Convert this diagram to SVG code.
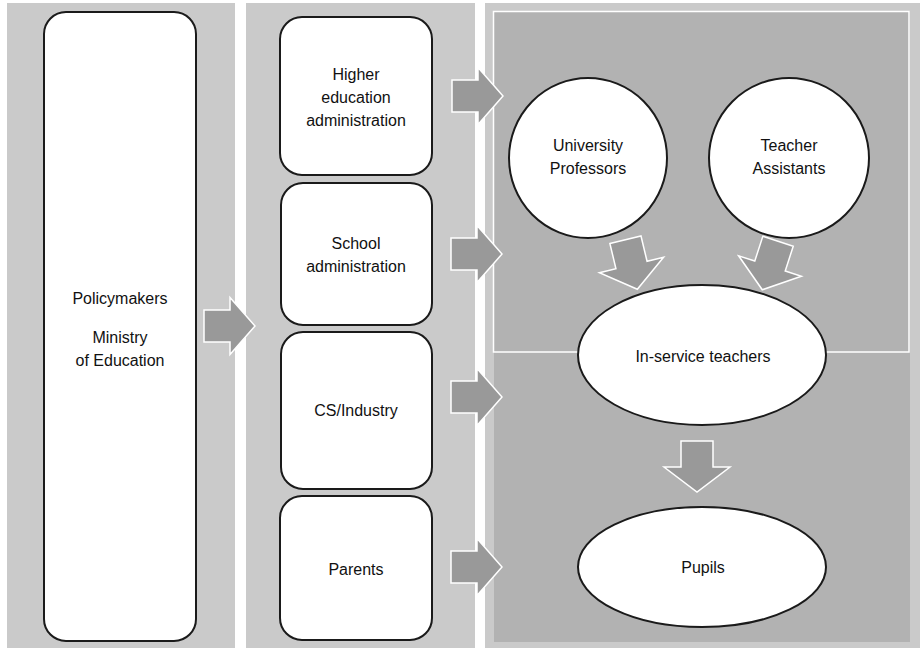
<svg xmlns="http://www.w3.org/2000/svg" width="920" height="649" viewBox="0 0 920 649">
  <style>
    .panel { fill: #cacaca; }
    .inner { fill: #b2b2b2; }
    .box { fill: #ffffff; stroke: #1a1a1a; stroke-width: 2; }
    .arrow { fill: #999999; stroke: #ffffff; stroke-width: 1.5; stroke-linejoin: miter; }
    .label { font-family: "Liberation Sans", Arial, sans-serif; font-size: 16px; fill: #111111; text-anchor: middle; }
  </style>
  <defs>
    <!-- block arrow pointing right, centred on the head base -->
    <polygon id="arrowRight" points="-26,-16 0,-16 0,-28.5 25,0 0,28.5 0,16 -26,16"/>
    <!-- block arrow pointing down, centred on the head base -->
    <polygon id="arrowDown" points="-16,-26 16,-26 16,0 33,0 0,25 -33,0 -16,0"/>
  </defs>

  <rect width="920" height="649" fill="#ffffff"/>

  <!-- column backgrounds -->
  <rect class="panel" x="7" y="3" width="228" height="645"/>
  <rect class="panel" x="246" y="3" width="229" height="645"/>
  <rect class="panel" x="485" y="3" width="435" height="645"/>
  <rect class="inner" x="494" y="11" width="416" height="631"/>
  <rect x="493.5" y="11.5" width="415.5" height="340.5" fill="none" stroke="#ffffff" stroke-width="1.5"/>

  <!-- connectors -->
  <g id="connectors">
    <use href="#arrowRight" class="arrow" x="230" y="326"/>
    <use href="#arrowRight" class="arrow" x="478" y="96"/>
    <use href="#arrowRight" class="arrow" x="477" y="254"/>
    <use href="#arrowRight" class="arrow" x="477" y="397"/>
    <use href="#arrowRight" class="arrow" x="477" y="567"/>
    <use href="#arrowDown" class="arrow" transform="translate(631.5,265) rotate(-13.5)"/>
    <use href="#arrowDown" class="arrow" transform="translate(770,266) rotate(18)"/>
    <use href="#arrowDown" class="arrow" x="697" y="467"/>
  </g>

  <g id="policymakers">
    <rect class="box" x="44" y="12" width="152" height="629" rx="22"/>
    <text class="label" x="120" y="304">Policymakers</text>
    <text class="label" x="120" y="343">Ministry</text>
    <text class="label" x="120" y="366">of Education</text>
  </g>

  <g id="higher-education">
    <rect class="box" x="280" y="17" width="152" height="158" rx="22"/>
    <text class="label" x="356" y="80">Higher</text>
    <text class="label" x="356" y="103">education</text>
    <text class="label" x="356" y="126">administration</text>
  </g>

  <g id="school-administration">
    <rect class="box" x="281" y="183" width="151" height="142" rx="22"/>
    <text class="label" x="356" y="249">School</text>
    <text class="label" x="356" y="272">administration</text>
  </g>

  <g id="cs-industry">
    <rect class="box" x="281" y="332" width="151" height="157" rx="22"/>
    <text class="label" x="356" y="416">CS/Industry</text>
  </g>

  <g id="parents">
    <rect class="box" x="280" y="496" width="152" height="144" rx="22"/>
    <text class="label" x="356" y="575">Parents</text>
  </g>

  <g id="university-professors">
    <ellipse class="box" cx="588" cy="158" rx="79" ry="80"/>
    <text class="label" x="588" y="151">University</text>
    <text class="label" x="588" y="174">Professors</text>
  </g>

  <g id="teacher-assistants">
    <ellipse class="box" cx="789" cy="158" rx="80" ry="80"/>
    <text class="label" x="789" y="151">Teacher</text>
    <text class="label" x="789" y="174">Assistants</text>
  </g>

  <g id="in-service-teachers">
    <ellipse class="box" cx="702" cy="355" rx="124" ry="70"/>
    <text class="label" x="703" y="362">In-service teachers</text>
  </g>

  <g id="pupils">
    <ellipse class="box" cx="702" cy="567" rx="124" ry="60"/>
    <text class="label" x="703" y="573">Pupils</text>
  </g>
</svg>
